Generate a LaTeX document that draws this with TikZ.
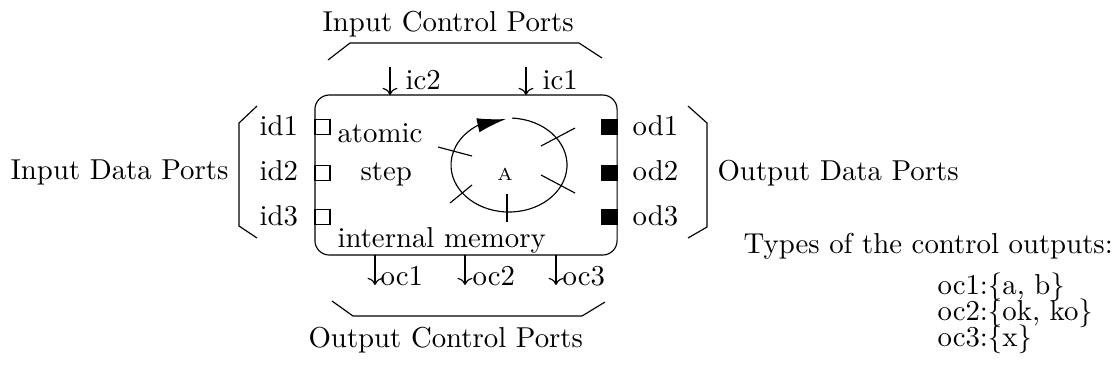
\documentclass[tikz,border=0pt]{standalone}
\usetikzlibrary{arrows.meta}
\begin{document}
\begin{tikzpicture}[x=0.3472pt,y=-0.3472pt,
  lbl/.style={anchor=base west,inner sep=0pt},
  inport/.style={draw,minimum width=5.2pt,minimum height=5.2pt,inner sep=0pt},
  outport/.style={draw,fill=black,minimum width=5.2pt,minimum height=5.2pt,inner sep=0pt},
  ctrl/.style={->},
  brk/.style={line width=0.4pt}]
\useasboundingbox (0,0) rectangle (1112,372);
% main box
\node[draw,rounded corners=5pt,minimum width=104.9pt,minimum height=55.55pt,inner sep=0pt] (box) at (466,175) {};
% titles
\node[lbl] (ictitle) at (322,31) {Input Control Ports};
\node[lbl] (octitle) at (308,347) {Output Control Ports};
\node[lbl] (idtitle) at (10,179) {Input Data Ports};
\node[lbl] (odtitle) at (717,180) {Output Data Ports};
% brackets
\draw[brk] (328,60) -- (350,43) -- (579,43) -- (602,58);
\draw[brk] (332,301) -- (353,316) -- (582,316) -- (605,302);
\draw[brk] (257,106) -- (239,123) -- (239,226) -- (257,238);
\draw[brk] (688,106) -- (707,123) -- (707,227) -- (688,238);
% input control
\coordinate (ic2s) at (390,67);
\coordinate (ic2e) at (390,95);
\coordinate (ic1s) at (526,67);
\coordinate (ic1e) at (526,95);
\draw[ctrl] (ic2s) -- (ic2e);
\draw[ctrl] (ic1s) -- (ic1e);
\node[lbl] (ic2) at (405,89) {ic2};
\node[lbl] (ic1) at (542,89) {ic1};
% output control
\coordinate (oc1s) at (375,255);
\coordinate (oc1e) at (375,285);
\coordinate (oc2s) at (465,255);
\coordinate (oc2e) at (465,285);
\coordinate (oc3s) at (556,255);
\coordinate (oc3e) at (556,285);
\draw[ctrl] (oc1s) -- (oc1e);
\draw[ctrl] (oc2s) -- (oc2e);
\draw[ctrl] (oc3s) -- (oc3e);
\node[lbl] (oc1) at (380,285) {oc1};
\node[lbl] (oc2) at (472,285) {oc2};
\node[lbl] (oc3) at (562,285) {oc3};
% data ports
\node[inport] (pid1) at (322.5,127) {};
\node[inport] (pid2) at (322.5,173) {};
\node[inport] (pid3) at (322.5,217) {};
\node[outport] (pod1) at (609.5,127) {};
\node[outport] (pod2) at (609.5,173) {};
\node[outport] (pod3) at (609.5,217) {};
\node[lbl] (id1) at (259,135) {id1};
\node[lbl] (id2) at (259,180) {id2};
\node[lbl] (id3) at (259,225) {id3};
\node[lbl] (od1) at (632,135) {od1};
\node[lbl] (od2) at (632,180) {od2};
\node[lbl] (od3) at (632,225) {od3};
% inner texts
\node[lbl] (atomic) at (337,142) {atomic};
\node[lbl] (step) at (360,180) {step};
\node[lbl] (mem) at (337,247) {internal memory};
% automaton
\coordinate (ecen) at (509,165);
\coordinate (etip) at (506,119);
\draw[-{Latex[length=10pt,width=5pt]}] ([shift={(-87:58 and 47)}]ecen) arc[start angle=-87,end angle=238,x radius=58,y radius=47] -- (etip);
\node[inner sep=0pt,font=\fontsize{6}{7}\selectfont] (A) at (505,174) {A};
\draw (438,147) -- (472,156);
\draw (541,146) -- (575,128);
\draw (541,175) -- (575,193);
\draw (450,203) -- (472,185);
\draw (507,194) -- (507,222);
% types
\node[lbl] (types) at (743,253) {Types of the control outputs:};
\node[lbl] (t1) at (937,294) {oc1:\{a, b\}};
\node[lbl] (t2) at (937,320) {oc2:\{ok, ko\}};
\node[lbl] (t3) at (937,346) {oc3:\{x\}};
\end{tikzpicture}
\end{document}
